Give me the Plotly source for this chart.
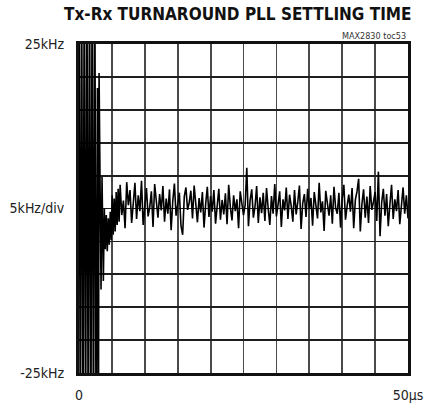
import plotly.graph_objects as go

# ---- data (time in microseconds, frequency error in kHz) ----
transient_t = [0.0, 0.2, 0.4, 0.6, 0.8, 1.0, 1.2, 1.4, 1.6, 1.8, 2.0, 2.2, 2.4, 2.6, 2.8, 2.95,
               3.05, 3.35, 3.5, 3.7, 3.85, 4.0, 4.15, 4.3, 4.45, 4.6, 4.75, 4.9, 5.05, 5.2,
               5.35, 5.5, 5.65, 5.8, 5.95, 6.1]
transient_khz = [40, -40, 40, -40, 40, -40, 40, -40, 40, -40, 40, -40, 40, -40, 18.3, -40,
                 20.6, -12.3, 4.8, -11.0, 0.0, -6.2, -1.0, -6.5, -1.5, -5.5, -0.5, -4.8, 2.0, -4.0,
                 1.5, -3.5, 2.5, -2.5, 3.0, -2.0]

settled_start = 6.25
settled_step = 0.25
settled_khz = [
    3.6, -1.0, 1.2, -3.0, 4.0, 0.5, 2.8, -2.2, 0.8, 3.9, -1.6, 2.0, -0.4, 4.2, -2.5, 1.0,
    3.1, -1.2, 0.2, 2.6, -2.8, 3.7, 0.6, -1.4, 2.2, -0.3, 3.4, -2.0, 1.5, -0.8, 2.9, -3.3,
    1.1, 3.8, -1.1, 0.4, 2.4, -2.6, -4.0, 1.8, 3.2, -0.2, 0.9, 2.7, -1.5, 3.5, 0.3, -2.1,
    1.6, -0.6, 2.5, -2.9, 0.7, 3.3, -1.3, 1.9, -0.5, 2.8, -2.3, 0.1, 3.0, -1.7, 1.3, -0.9,
    2.3, -2.4, 3.6, 0.2, -1.8, 2.0, -0.4, 1.4, -3.0, 2.6, 0.4, -1.0, 0.5, 6.2, -2.7, 1.2,
    2.9, -1.4, 0.3, 3.4, -2.2, 1.7, -0.7, 2.4, -1.9, 3.1, 0.0, -2.5, 1.9, -0.8, 3.7, -1.2,
    0.6, 2.6, -2.8, 1.4, -0.3, 3.2, -1.6, 2.1, 0.4, -2.0, 2.8, -0.9, 1.0, 3.5, -3.1, 0.8,
    2.2, -1.3, 3.0, -0.1, 1.6, -2.6, 2.5, 0.2, -1.5, 3.9, -0.6, 1.1, -3.4, 2.7, 0.5, -1.1,
    2.0, -2.3, 3.3, 0.1, -0.8, 2.4, -2.9, 1.5, 3.6, -1.7, 0.4, 2.1, -0.5, 3.1, -3.0, 1.3,
    2.6, 4.5, -3.5, 0.7, 2.9, -1.4, 1.8, -2.2, 3.4, -0.2, 1.0, 2.5, -1.9, 5.6, -4.2, 0.9,
    3.0, -1.1, 2.2, -2.7, 0.6, 3.6, -1.6, 1.4, -0.4, 2.8, -2.4, 1.2, 3.2, -0.8, 2.0, -1.5,
]

x_ticks = [0, 5, 10, 15, 20, 25, 30, 35, 40, 45, 50]
x_ticktext = ["0", "", "", "", "", "", "", "", "", "", "50μs"]
y_ticks = [-25, -20, -15, -10, -5, 0, 5, 10, 15, 20, 25]
y_ticktext = ["-25kHz", "", "", "", "", "5kHz/div", "", "", "", "", "25kHz"]

settled_t = [settled_start + settled_step * i for i in range(len(settled_khz))]
t_all = transient_t + settled_t
y_all = transient_khz + settled_khz

fig = go.Figure()
fig.add_trace(go.Scatter(x=t_all, y=y_all, mode="lines",
                         line=dict(color="#000000", width=1.6), hoverinfo="skip"))

FONT = "DejaVu Sans Condensed, Liberation Sans Narrow, Arial Narrow, sans-serif"
label_font = dict(family=FONT, size=14, color="#222222")

fig.update_layout(
    width=425, height=407,
    margin=dict(l=79, r=17, t=44, b=34),
    paper_bgcolor="white", plot_bgcolor="white",
    showlegend=False,
    xaxis=dict(range=[0, 50], tickvals=x_ticks, ticktext=x_ticktext, automargin=False,
               showgrid=True, gridcolor="#4a4a4a", gridwidth=1.8,
               zeroline=False, showline=True, linecolor="#111111", linewidth=3, mirror=True,
               ticks="", tickfont=label_font, ticklabelstandoff=7),
    yaxis=dict(range=[-25, 25], tickvals=y_ticks, ticktext=y_ticktext, automargin=False,
               showgrid=True, gridcolor="#1e1e1e", gridwidth=1.8,
               zeroline=False, showline=True, linecolor="#111111", linewidth=3, mirror=True,
               ticks="", tickfont=label_font, ticklabelstandoff=9),
    annotations=[
        dict(text="<b>Tx-Rx TURNAROUND PLL SETTLING TIME</b>", xref="paper", yref="paper",
             x=1.018, y=1.0, xanchor="right", yanchor="bottom", yshift=18, showarrow=False,
             font=dict(family=FONT, size=17, color="#111111")),
        dict(text="MAX2830 toc53", xref="paper", yref="paper",
             x=1.0, y=1.0, xanchor="right", yanchor="bottom", yshift=1, showarrow=False,
             font=dict(family=FONT, size=9, color="#333333")),
    ],
)

fig.write_html("out.html", config={"displayModeBar": False, "staticPlot": True},
               post_script="document.body.style.margin='0';document.body.style.padding='0';")
